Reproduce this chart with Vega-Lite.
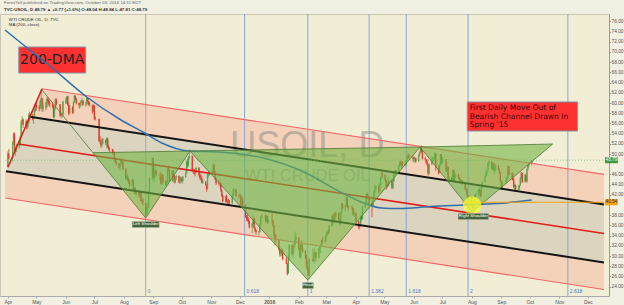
{
"$schema":"https://vega.github.io/schema/vega-lite/v6.json",
"width":609,"height":282,
"autosize":{"type":"none"},
"padding":{"left":0,"top":14,"right":15,"bottom":9},
"background":"#f2f0e2",
"config":{"view":{"fill":"#f2eed6","stroke":"#c9c6b6"},"font":"Liberation Sans"},
"title":{"text":"ForexYell published on TradingView.com, October 03, 2016 14:11 EDT","subtitle":"TVC:USOIL, D  48.79 ▲ +0.77 (+1.6%) O:48.04 H:48.84 L:47.81 C:48.79","anchor":"start","frame":"group","orient":"top","offset":1.5,"dx":4,"fontSize":4.4,"fontWeight":"normal","color":"#666","subtitleFontSize":4.4,"subtitleFontWeight":"bold","subtitleColor":"#333","subtitlePadding":1.8},
"datasets":{
"bands":[
{"b":"up","d":"2015-04-24","p":57.29,"p2":57.29},{"b":"up","d":"2015-05-07","p":62.80,"p2":56.92},{"b":"up","d":"2016-12-18","p":46.00,"p2":40.12},
{"b":"mid","d":"2015-03-30","p":46.63,"p2":46.63},{"b":"mid","d":"2015-04-24","p":57.29,"p2":45.92},{"b":"mid","d":"2016-12-18","p":40.12,"p2":28.75},
{"b":"low","d":"2015-03-29","p":46.67,"p2":41.37},{"b":"low","d":"2016-12-18","p":28.75,"p2":23.45}],
"ch":[
{"n":"tr","d":"2015-05-07","p":62.80},{"n":"tr","d":"2016-12-18","p":46.00},
{"n":"ub","d":"2015-04-24","p":57.29},{"n":"ub","d":"2016-12-18","p":40.12},
{"n":"mr","d":"2015-04-12","p":51.95},{"n":"mr","d":"2016-12-18","p":34.43},
{"n":"lb","d":"2015-03-30","p":46.63},{"n":"lb","d":"2016-12-18","p":28.75},
{"n":"lr","d":"2015-03-29","p":41.37},{"n":"lr","d":"2016-12-18","p":23.45},
{"n":"hd","d":"2015-04-01","p":47.41},{"n":"hd","d":"2015-05-07","p":62.80}],
"fib":[{"d":"2015-08-24","lv":"0"},{"d":"2015-12-06","lv":"0.618"},{"d":"2016-02-10T12:00:00Z","lv":"1"},{"d":"2016-04-15","lv":"1.382"},{"d":"2016-05-24","lv":"1.618"},{"d":"2016-07-28","lv":"2"},{"d":"2016-11-10","lv":"2.618"}],
"tri":[
{"t":"ls","d":"2015-06-29T12:00:00Z","p":50.25,"p2":50.25},{"t":"ls","d":"2015-08-24","p":37.45,"p2":50.43},{"t":"ls","d":"2015-10-09T12:00:00Z","p":50.59,"p2":50.59},
{"t":"hd","d":"2015-10-09T12:00:00Z","p":50.59,"p2":50.59},{"t":"hd","d":"2016-02-10T12:00:00Z","p":25.29,"p2":50.99},{"t":"hd","d":"2016-06-07T12:00:00Z","p":51.37,"p2":51.37},
{"t":"rs","d":"2016-06-07T12:00:00Z","p":51.37,"p2":51.37},{"t":"rs","d":"2016-08-01T12:00:00Z","p":38.63,"p2":51.60},{"t":"rs","d":"2016-10-25","p":51.96,"p2":51.96}],
"ma":[{"d":"2015-03-29","p":74.31},{"d":"2015-04-11","p":72.35},{"d":"2015-05-14","p":67.45},{"d":"2015-06-23","p":61.18},{"d":"2015-07-29","p":56.67},{"d":"2015-08-21","p":54.31},{"d":"2015-09-10","p":52.16},{"d":"2015-10-08","p":50.59},{"d":"2015-11-08","p":50.39},{"d":"2015-12-02","p":50.0},{"d":"2015-12-30","p":49.02},{"d":"2016-02-02","p":46.86},{"d":"2016-03-18","p":42.35},{"d":"2016-04-12","p":40.2},{"d":"2016-04-28","p":39.41},{"d":"2016-05-16","p":39.31},{"d":"2016-06-19","p":39.71},{"d":"2016-07-25","p":40.0},{"d":"2016-08-28","p":40.29},{"d":"2016-10-03","p":40.98}],
"candles":[
{"d":"2015-04-01","o":47.6,"h":50.5,"l":47.4,"c":50.09},{"d":"2015-04-02","o":50.1,"h":51.0,"l":48.8,"c":49.14},{"d":"2015-04-06","o":49.1,"h":52.5,"l":48.5,"c":52.14},{"d":"2015-04-07","o":52.1,"h":54.2,"l":51.8,"c":53.98},{"d":"2015-04-08","o":54.0,"h":54.2,"l":50.1,"c":50.42},{"d":"2015-04-09","o":50.4,"h":51.3,"l":49.6,"c":50.79},{"d":"2015-04-10","o":50.8,"h":52.0,"l":50.4,"c":51.64},{"d":"2015-04-13","o":51.6,"h":52.5,"l":51.0,"c":51.91},{"d":"2015-04-14","o":51.9,"h":53.6,"l":51.5,"c":53.29},{"d":"2015-04-15","o":53.3,"h":56.6,"l":53.1,"c":56.39},{"d":"2015-04-16","o":56.4,"h":57.4,"l":55.9,"c":56.71},{"d":"2015-04-17","o":56.7,"h":57.0,"l":55.1,"c":55.74},{"d":"2015-04-20","o":55.7,"h":56.8,"l":55.2,"c":56.38},{"d":"2015-04-21","o":56.4,"h":56.6,"l":54.8,"c":55.26},{"d":"2015-04-22","o":55.3,"h":56.9,"l":54.9,"c":56.16},{"d":"2015-04-23","o":56.2,"h":58.0,"l":55.9,"c":57.74},{"d":"2015-04-24","o":57.7,"h":58.3,"l":56.6,"c":57.15},{"d":"2015-04-27","o":57.2,"h":57.9,"l":56.6,"c":56.99},{"d":"2015-04-28","o":57.0,"h":57.4,"l":55.9,"c":57.06},{"d":"2015-04-29","o":57.1,"h":59.0,"l":56.9,"c":58.58},{"d":"2015-04-30","o":58.6,"h":59.9,"l":58.3,"c":59.63},
{"d":"2015-05-01","o":59.6,"h":60.0,"l":58.5,"c":59.15},{"d":"2015-05-04","o":59.2,"h":59.6,"l":58.4,"c":58.93},{"d":"2015-05-05","o":58.9,"h":60.6,"l":58.7,"c":60.40},{"d":"2015-05-06","o":60.4,"h":62.58,"l":60.2,"c":60.93},{"d":"2015-05-07","o":60.9,"h":61.0,"l":58.3,"c":58.94},{"d":"2015-05-08","o":58.9,"h":60.0,"l":58.3,"c":59.39},{"d":"2015-05-11","o":59.4,"h":60.2,"l":58.6,"c":59.25},{"d":"2015-05-12","o":59.3,"h":61.0,"l":59.0,"c":60.75},{"d":"2015-05-13","o":60.8,"h":61.2,"l":59.9,"c":60.50},{"d":"2015-05-14","o":60.5,"h":60.9,"l":59.5,"c":59.88},{"d":"2015-05-15","o":59.9,"h":60.5,"l":59.2,"c":59.69},{"d":"2015-05-18","o":59.7,"h":60.2,"l":59.0,"c":59.43},{"d":"2015-05-19","o":59.4,"h":59.6,"l":57.1,"c":57.26},{"d":"2015-05-20","o":57.3,"h":59.2,"l":57.0,"c":58.98},{"d":"2015-05-21","o":59.0,"h":60.9,"l":58.7,"c":60.72},{"d":"2015-05-22","o":60.7,"h":60.9,"l":59.5,"c":59.72},{"d":"2015-05-26","o":59.7,"h":59.8,"l":57.3,"c":57.51},{"d":"2015-05-27","o":57.5,"h":58.0,"l":57.0,"c":57.51},{"d":"2015-05-28","o":57.5,"h":58.2,"l":57.1,"c":57.68},{"d":"2015-05-29","o":57.7,"h":60.4,"l":57.5,"c":60.30},
{"d":"2015-06-01","o":60.3,"h":61.0,"l":59.8,"c":60.20},{"d":"2015-06-02","o":60.2,"h":61.4,"l":59.8,"c":61.26},{"d":"2015-06-03","o":61.3,"h":61.4,"l":59.5,"c":59.64},{"d":"2015-06-04","o":59.6,"h":60.1,"l":57.6,"c":58.00},{"d":"2015-06-05","o":58.0,"h":59.6,"l":57.8,"c":59.13},{"d":"2015-06-08","o":59.1,"h":59.3,"l":57.9,"c":58.14},{"d":"2015-06-09","o":58.1,"h":60.3,"l":57.9,"c":60.14},{"d":"2015-06-10","o":60.1,"h":61.57,"l":60.0,"c":61.43},{"d":"2015-06-11","o":61.4,"h":61.5,"l":60.5,"c":60.77},{"d":"2015-06-12","o":60.8,"h":61.0,"l":59.7,"c":59.96},{"d":"2015-06-15","o":60.0,"h":60.1,"l":58.9,"c":59.52},{"d":"2015-06-16","o":59.5,"h":60.2,"l":59.1,"c":59.97},{"d":"2015-06-17","o":60.0,"h":60.6,"l":59.4,"c":60.43},{"d":"2015-06-18","o":60.4,"h":61.0,"l":60.0,"c":60.45},{"d":"2015-06-19","o":60.5,"h":60.5,"l":59.4,"c":59.61},{"d":"2015-06-22","o":59.6,"h":60.2,"l":59.3,"c":59.68},{"d":"2015-06-23","o":59.7,"h":61.2,"l":59.5,"c":61.01},{"d":"2015-06-24","o":61.0,"h":61.1,"l":59.9,"c":60.27},{"d":"2015-06-25","o":60.3,"h":60.4,"l":59.5,"c":59.70},{"d":"2015-06-26","o":59.7,"h":60.2,"l":59.3,"c":59.63},{"d":"2015-06-29","o":59.6,"h":59.7,"l":57.9,"c":58.33},{"d":"2015-06-30","o":58.3,"h":59.7,"l":58.2,"c":59.47},
{"d":"2015-07-01","o":59.5,"h":59.6,"l":56.6,"c":56.96},{"d":"2015-07-02","o":57.0,"h":57.4,"l":56.6,"c":56.93},{"d":"2015-07-06","o":56.9,"h":56.9,"l":52.4,"c":52.53},{"d":"2015-07-07","o":52.5,"h":53.5,"l":51.9,"c":52.33},{"d":"2015-07-08","o":52.3,"h":52.8,"l":51.2,"c":51.65},{"d":"2015-07-09","o":51.7,"h":53.1,"l":51.4,"c":52.78},{"d":"2015-07-10","o":52.8,"h":53.1,"l":52.0,"c":52.74},{"d":"2015-07-13","o":52.7,"h":52.9,"l":51.7,"c":52.20},{"d":"2015-07-14","o":52.2,"h":53.3,"l":51.1,"c":53.04},{"d":"2015-07-15","o":53.0,"h":53.2,"l":51.2,"c":51.41},{"d":"2015-07-16","o":51.4,"h":51.8,"l":50.7,"c":50.91},{"d":"2015-07-17","o":50.9,"h":51.3,"l":50.4,"c":50.89},{"d":"2015-07-20","o":50.9,"h":51.0,"l":50.0,"c":50.15},{"d":"2015-07-21","o":50.2,"h":50.9,"l":49.8,"c":50.36},{"d":"2015-07-22","o":50.4,"h":50.5,"l":48.9,"c":49.19},{"d":"2015-07-23","o":49.2,"h":49.4,"l":48.2,"c":48.45},{"d":"2015-07-24","o":48.5,"h":48.7,"l":47.8,"c":48.14},{"d":"2015-07-27","o":48.1,"h":48.2,"l":47.2,"c":47.39},{"d":"2015-07-28","o":47.4,"h":48.2,"l":46.7,"c":47.98},{"d":"2015-07-29","o":48.0,"h":49.0,"l":47.6,"c":48.79},{"d":"2015-07-30","o":48.8,"h":49.2,"l":48.0,"c":48.52},{"d":"2015-07-31","o":48.5,"h":48.6,"l":46.9,"c":47.12},
{"d":"2015-08-03","o":47.1,"h":47.2,"l":45.0,"c":45.17},{"d":"2015-08-04","o":45.2,"h":46.0,"l":44.9,"c":45.74},{"d":"2015-08-05","o":45.7,"h":46.0,"l":44.6,"c":45.15},{"d":"2015-08-06","o":45.2,"h":45.3,"l":44.1,"c":44.66},{"d":"2015-08-07","o":44.7,"h":44.8,"l":43.4,"c":43.87},{"d":"2015-08-10","o":43.9,"h":45.2,"l":43.8,"c":44.96},{"d":"2015-08-11","o":45.0,"h":45.0,"l":42.9,"c":43.08},{"d":"2015-08-12","o":43.1,"h":43.7,"l":42.0,"c":43.30},{"d":"2015-08-13","o":43.3,"h":43.5,"l":42.1,"c":42.23},{"d":"2015-08-14","o":42.2,"h":42.8,"l":41.9,"c":42.50},{"d":"2015-08-17","o":42.5,"h":42.6,"l":41.4,"c":41.87},{"d":"2015-08-18","o":41.9,"h":42.7,"l":41.6,"c":42.62},{"d":"2015-08-19","o":42.6,"h":42.7,"l":40.6,"c":40.80},{"d":"2015-08-20","o":40.8,"h":41.6,"l":40.2,"c":41.14},{"d":"2015-08-21","o":41.1,"h":41.3,"l":39.9,"c":40.45},{"d":"2015-08-24","o":40.4,"h":40.5,"l":37.75,"c":38.24},{"d":"2015-08-25","o":38.2,"h":39.8,"l":38.0,"c":39.31},{"d":"2015-08-26","o":39.3,"h":40.3,"l":38.6,"c":39.60},{"d":"2015-08-27","o":39.6,"h":42.9,"l":39.4,"c":42.56},{"d":"2015-08-28","o":42.6,"h":45.4,"l":42.3,"c":45.22},{"d":"2015-08-31","o":45.2,"h":49.3,"l":44.8,"c":49.20},
{"d":"2015-09-01","o":49.2,"h":49.3,"l":45.1,"c":45.41},{"d":"2015-09-02","o":45.4,"h":47.0,"l":44.4,"c":46.25},{"d":"2015-09-03","o":46.3,"h":47.6,"l":45.9,"c":46.75},{"d":"2015-09-04","o":46.7,"h":46.9,"l":45.6,"c":46.05},{"d":"2015-09-08","o":46.0,"h":46.3,"l":44.8,"c":45.94},{"d":"2015-09-09","o":45.9,"h":46.4,"l":44.0,"c":44.15},{"d":"2015-09-10","o":44.2,"h":46.2,"l":43.9,"c":45.92},{"d":"2015-09-11","o":45.9,"h":46.0,"l":44.3,"c":44.63},{"d":"2015-09-14","o":44.6,"h":44.8,"l":43.7,"c":44.00},{"d":"2015-09-15","o":44.0,"h":44.9,"l":43.8,"c":44.59},{"d":"2015-09-16","o":44.6,"h":47.3,"l":44.5,"c":47.15},{"d":"2015-09-17","o":47.2,"h":47.7,"l":46.6,"c":46.90},{"d":"2015-09-18","o":46.9,"h":47.0,"l":44.5,"c":44.68},{"d":"2015-09-21","o":44.7,"h":46.9,"l":44.6,"c":46.68},{"d":"2015-09-22","o":46.7,"h":46.8,"l":45.6,"c":45.83},{"d":"2015-09-23","o":45.8,"h":46.1,"l":44.3,"c":44.48},{"d":"2015-09-24","o":44.5,"h":45.4,"l":44.2,"c":45.22},{"d":"2015-09-25","o":45.2,"h":45.9,"l":44.9,"c":45.70},{"d":"2015-09-28","o":45.7,"h":45.8,"l":44.3,"c":44.43},{"d":"2015-09-29","o":44.4,"h":45.4,"l":44.1,"c":45.23},{"d":"2015-09-30","o":45.2,"h":45.6,"l":44.7,"c":45.09},
{"d":"2015-10-01","o":45.1,"h":45.4,"l":44.2,"c":44.74},{"d":"2015-10-02","o":44.7,"h":45.7,"l":44.4,"c":45.54},{"d":"2015-10-05","o":45.5,"h":46.6,"l":45.3,"c":46.26},{"d":"2015-10-06","o":46.3,"h":48.7,"l":46.1,"c":48.53},{"d":"2015-10-07","o":48.5,"h":49.1,"l":47.3,"c":47.81},{"d":"2015-10-08","o":47.8,"h":49.6,"l":47.6,"c":49.43},{"d":"2015-10-09","o":49.4,"h":50.92,"l":48.9,"c":49.63},{"d":"2015-10-12","o":49.6,"h":49.7,"l":46.6,"c":46.66},{"d":"2015-10-13","o":46.7,"h":47.2,"l":46.1,"c":46.66},{"d":"2015-10-14","o":46.7,"h":47.0,"l":45.9,"c":46.64},{"d":"2015-10-15","o":46.6,"h":47.1,"l":45.6,"c":46.38},{"d":"2015-10-16","o":46.4,"h":47.5,"l":46.2,"c":47.26},{"d":"2015-10-19","o":47.3,"h":47.4,"l":45.6,"c":45.89},{"d":"2015-10-20","o":45.9,"h":46.2,"l":45.0,"c":45.29},{"d":"2015-10-21","o":45.3,"h":46.1,"l":44.8,"c":45.20},{"d":"2015-10-22","o":45.2,"h":45.7,"l":44.2,"c":44.38},{"d":"2015-10-23","o":44.4,"h":45.2,"l":44.2,"c":44.60},{"d":"2015-10-26","o":44.6,"h":44.7,"l":43.8,"c":43.98},{"d":"2015-10-27","o":44.0,"h":44.0,"l":42.6,"c":43.20},{"d":"2015-10-28","o":43.2,"h":46.1,"l":43.0,"c":45.94},{"d":"2015-10-29","o":45.9,"h":46.5,"l":45.4,"c":46.06},{"d":"2015-10-30","o":46.1,"h":46.7,"l":45.7,"c":46.59},
{"d":"2015-11-02","o":46.6,"h":46.8,"l":45.9,"c":46.14},{"d":"2015-11-03","o":46.1,"h":48.2,"l":46.0,"c":47.90},{"d":"2015-11-04","o":47.9,"h":48.0,"l":45.9,"c":46.32},{"d":"2015-11-05","o":46.3,"h":46.7,"l":44.9,"c":45.20},{"d":"2015-11-06","o":45.2,"h":45.3,"l":43.9,"c":44.29},{"d":"2015-11-09","o":44.3,"h":44.9,"l":43.8,"c":44.21},{"d":"2015-11-10","o":44.2,"h":44.6,"l":43.6,"c":44.21},{"d":"2015-11-11","o":44.2,"h":44.4,"l":42.6,"c":42.93},{"d":"2015-11-12","o":42.9,"h":43.0,"l":41.6,"c":41.75},{"d":"2015-11-13","o":41.8,"h":42.1,"l":40.5,"c":40.74},{"d":"2015-11-16","o":40.7,"h":41.9,"l":40.4,"c":41.74},{"d":"2015-11-17","o":41.7,"h":42.0,"l":40.5,"c":40.67},{"d":"2015-11-18","o":40.7,"h":41.1,"l":39.9,"c":40.75},{"d":"2015-11-19","o":40.8,"h":41.2,"l":40.1,"c":40.54},{"d":"2015-11-20","o":40.5,"h":41.0,"l":39.9,"c":40.39},{"d":"2015-11-23","o":40.4,"h":42.0,"l":40.2,"c":41.75},{"d":"2015-11-24","o":41.8,"h":43.2,"l":41.6,"c":42.87},{"d":"2015-11-25","o":42.9,"h":43.3,"l":42.0,"c":43.04},{"d":"2015-11-27","o":43.0,"h":43.1,"l":41.6,"c":41.71},{"d":"2015-11-30","o":41.7,"h":42.2,"l":41.3,"c":41.65},
{"d":"2015-12-01","o":41.7,"h":42.2,"l":41.3,"c":41.85},{"d":"2015-12-02","o":41.9,"h":42.0,"l":39.8,"c":39.94},{"d":"2015-12-03","o":39.9,"h":41.6,"l":39.7,"c":41.08},{"d":"2015-12-04","o":41.1,"h":41.5,"l":39.6,"c":39.97},{"d":"2015-12-07","o":40.0,"h":40.1,"l":37.5,"c":37.65},{"d":"2015-12-08","o":37.7,"h":38.0,"l":36.9,"c":37.51},{"d":"2015-12-09","o":37.5,"h":38.3,"l":36.8,"c":37.16},{"d":"2015-12-10","o":37.2,"h":37.6,"l":36.3,"c":36.76},{"d":"2015-12-11","o":36.8,"h":36.9,"l":35.4,"c":35.62},{"d":"2015-12-14","o":35.6,"h":36.6,"l":34.5,"c":36.31},{"d":"2015-12-15","o":36.3,"h":37.9,"l":36.1,"c":37.35},{"d":"2015-12-16","o":37.4,"h":37.5,"l":35.4,"c":35.52},{"d":"2015-12-17","o":35.5,"h":35.7,"l":34.6,"c":34.95},{"d":"2015-12-18","o":35.0,"h":35.2,"l":34.2,"c":34.73},{"d":"2015-12-21","o":34.7,"h":35.0,"l":33.98,"c":34.74},{"d":"2015-12-22","o":34.7,"h":36.4,"l":34.6,"c":36.14},{"d":"2015-12-23","o":36.1,"h":37.8,"l":36.0,"c":37.50},{"d":"2015-12-24","o":37.5,"h":38.1,"l":37.3,"c":38.10},{"d":"2015-12-28","o":38.1,"h":38.1,"l":36.6,"c":36.81},{"d":"2015-12-29","o":36.8,"h":37.9,"l":36.7,"c":37.87},{"d":"2015-12-30","o":37.9,"h":37.9,"l":36.3,"c":36.60},{"d":"2015-12-31","o":36.6,"h":37.2,"l":36.5,"c":37.04},
{"d":"2016-01-04","o":37.0,"h":38.4,"l":36.3,"c":36.76},{"d":"2016-01-05","o":36.8,"h":37.1,"l":35.7,"c":35.97},{"d":"2016-01-06","o":36.0,"h":36.0,"l":33.8,"c":33.97},{"d":"2016-01-07","o":34.0,"h":34.3,"l":32.1,"c":33.27},{"d":"2016-01-08","o":33.3,"h":34.3,"l":32.8,"c":33.16},{"d":"2016-01-11","o":33.2,"h":33.2,"l":31.1,"c":31.41},{"d":"2016-01-12","o":31.4,"h":31.9,"l":29.9,"c":30.44},{"d":"2016-01-13","o":30.4,"h":31.2,"l":29.9,"c":30.48},{"d":"2016-01-14","o":30.5,"h":31.6,"l":30.0,"c":31.20},{"d":"2016-01-15","o":31.2,"h":31.3,"l":29.1,"c":29.42},{"d":"2016-01-19","o":29.4,"h":29.9,"l":28.4,"c":28.46},{"d":"2016-01-20","o":28.5,"h":28.6,"l":26.19,"c":26.55},{"d":"2016-01-21","o":26.6,"h":30.2,"l":26.5,"c":29.53},{"d":"2016-01-22","o":29.5,"h":32.3,"l":29.3,"c":32.19},{"d":"2016-01-25","o":32.2,"h":32.3,"l":30.1,"c":30.34},{"d":"2016-01-26","o":30.3,"h":31.6,"l":29.6,"c":31.45},{"d":"2016-01-27","o":31.5,"h":32.6,"l":30.8,"c":32.30},{"d":"2016-01-28","o":32.3,"h":34.8,"l":31.8,"c":33.22},{"d":"2016-01-29","o":33.2,"h":34.4,"l":32.6,"c":33.62},
{"d":"2016-02-01","o":33.6,"h":33.7,"l":31.1,"c":31.62},{"d":"2016-02-02","o":31.6,"h":31.8,"l":29.6,"c":29.88},{"d":"2016-02-03","o":29.9,"h":32.4,"l":29.3,"c":32.28},{"d":"2016-02-04","o":32.3,"h":33.0,"l":31.2,"c":31.72},{"d":"2016-02-05","o":31.7,"h":32.3,"l":30.6,"c":30.89},{"d":"2016-02-08","o":30.9,"h":31.2,"l":29.4,"c":29.69},{"d":"2016-02-09","o":29.7,"h":30.2,"l":27.6,"c":27.94},{"d":"2016-02-10","o":27.9,"h":29.0,"l":27.1,"c":27.45},{"d":"2016-02-11","o":27.5,"h":27.6,"l":26.05,"c":26.21},{"d":"2016-02-12","o":26.2,"h":29.5,"l":26.2,"c":29.44},{"d":"2016-02-16","o":29.4,"h":31.5,"l":28.8,"c":29.04},{"d":"2016-02-17","o":29.0,"h":30.9,"l":28.6,"c":30.66},{"d":"2016-02-18","o":30.7,"h":31.5,"l":30.2,"c":30.77},{"d":"2016-02-19","o":30.8,"h":30.8,"l":28.9,"c":29.64},{"d":"2016-02-22","o":29.6,"h":31.6,"l":29.5,"c":31.48},{"d":"2016-02-23","o":31.5,"h":31.8,"l":30.7,"c":31.87},{"d":"2016-02-24","o":31.9,"h":32.4,"l":30.6,"c":32.15},{"d":"2016-02-25","o":32.2,"h":33.3,"l":31.8,"c":33.07},{"d":"2016-02-26","o":33.1,"h":33.8,"l":32.4,"c":32.78},{"d":"2016-02-29","o":32.8,"h":34.0,"l":32.5,"c":33.75},
{"d":"2016-03-01","o":33.8,"h":34.8,"l":33.0,"c":34.40},{"d":"2016-03-02","o":34.4,"h":35.0,"l":33.8,"c":34.66},{"d":"2016-03-03","o":34.7,"h":35.2,"l":34.2,"c":34.57},{"d":"2016-03-04","o":34.6,"h":36.1,"l":34.5,"c":35.92},{"d":"2016-03-07","o":35.9,"h":38.0,"l":35.8,"c":37.90},{"d":"2016-03-08","o":37.9,"h":38.0,"l":36.2,"c":36.50},{"d":"2016-03-09","o":36.5,"h":38.4,"l":36.4,"c":38.29},{"d":"2016-03-10","o":38.3,"h":38.6,"l":37.0,"c":37.84},{"d":"2016-03-11","o":37.8,"h":38.7,"l":37.3,"c":38.50},{"d":"2016-03-14","o":38.5,"h":38.6,"l":36.8,"c":37.18},{"d":"2016-03-15","o":37.2,"h":37.3,"l":36.0,"c":36.34},{"d":"2016-03-16","o":36.3,"h":38.6,"l":36.2,"c":38.46},{"d":"2016-03-17","o":38.5,"h":40.4,"l":38.3,"c":40.20},{"d":"2016-03-18","o":40.2,"h":40.4,"l":39.2,"c":39.44},{"d":"2016-03-21","o":39.4,"h":40.0,"l":38.8,"c":39.91},{"d":"2016-03-22","o":39.9,"h":41.9,"l":39.5,"c":41.45},{"d":"2016-03-23","o":41.5,"h":41.5,"l":39.6,"c":39.79},{"d":"2016-03-24","o":39.8,"h":39.9,"l":39.0,"c":39.46},{"d":"2016-03-28","o":39.5,"h":39.9,"l":39.0,"c":39.39},{"d":"2016-03-29","o":39.4,"h":39.5,"l":37.9,"c":38.28},{"d":"2016-03-30","o":38.3,"h":39.0,"l":37.8,"c":38.32},{"d":"2016-03-31","o":38.3,"h":38.6,"l":37.9,"c":38.34},
{"d":"2016-04-01","o":38.3,"h":38.5,"l":36.6,"c":36.79},{"d":"2016-04-04","o":36.8,"h":37.0,"l":35.3,"c":35.70},{"d":"2016-04-05","o":35.7,"h":36.2,"l":35.2,"c":35.89},{"d":"2016-04-06","o":35.9,"h":37.9,"l":35.8,"c":37.75},{"d":"2016-04-07","o":37.8,"h":38.0,"l":36.9,"c":37.26},{"d":"2016-04-08","o":37.3,"h":39.9,"l":37.1,"c":39.72},{"d":"2016-04-11","o":39.7,"h":40.6,"l":39.4,"c":40.36},{"d":"2016-04-12","o":40.4,"h":42.3,"l":40.2,"c":42.17},{"d":"2016-04-13","o":42.2,"h":42.4,"l":41.2,"c":41.76},{"d":"2016-04-14","o":41.8,"h":42.0,"l":40.9,"c":41.50},{"d":"2016-04-15","o":41.5,"h":41.6,"l":40.0,"c":40.36},{"d":"2016-04-18","o":40.4,"h":40.5,"l":37.6,"c":39.78},{"d":"2016-04-19","o":39.8,"h":41.2,"l":39.5,"c":41.08},{"d":"2016-04-20","o":41.1,"h":42.7,"l":40.6,"c":42.63},{"d":"2016-04-21","o":42.6,"h":44.0,"l":42.4,"c":43.18},{"d":"2016-04-22","o":43.2,"h":43.8,"l":42.9,"c":43.73},{"d":"2016-04-25","o":43.7,"h":43.8,"l":42.3,"c":42.64},{"d":"2016-04-26","o":42.6,"h":44.2,"l":42.3,"c":44.04},{"d":"2016-04-27","o":44.0,"h":45.5,"l":43.8,"c":45.33},{"d":"2016-04-28","o":45.3,"h":46.78,"l":44.9,"c":46.03},{"d":"2016-04-29","o":46.0,"h":46.5,"l":45.4,"c":45.92},
{"d":"2016-05-02","o":45.9,"h":46.0,"l":44.6,"c":44.78},{"d":"2016-05-03","o":44.8,"h":44.9,"l":43.0,"c":43.65},{"d":"2016-05-04","o":43.7,"h":44.4,"l":43.3,"c":43.78},{"d":"2016-05-05","o":43.8,"h":45.6,"l":43.6,"c":44.32},{"d":"2016-05-06","o":44.3,"h":44.9,"l":43.8,"c":44.66},{"d":"2016-05-09","o":44.7,"h":45.1,"l":43.1,"c":43.44},{"d":"2016-05-10","o":43.4,"h":44.8,"l":43.1,"c":44.66},{"d":"2016-05-11","o":44.7,"h":46.4,"l":44.5,"c":46.23},{"d":"2016-05-12","o":46.2,"h":46.8,"l":45.8,"c":46.70},{"d":"2016-05-13","o":46.7,"h":46.9,"l":45.9,"c":46.21},{"d":"2016-05-16","o":46.2,"h":47.9,"l":46.1,"c":47.72},{"d":"2016-05-17","o":47.7,"h":48.6,"l":47.4,"c":48.31},{"d":"2016-05-18","o":48.3,"h":48.7,"l":47.6,"c":48.19},{"d":"2016-05-19","o":48.2,"h":48.5,"l":47.1,"c":48.49},{"d":"2016-05-20","o":48.5,"h":48.6,"l":47.6,"c":47.75},{"d":"2016-05-23","o":47.8,"h":48.5,"l":47.6,"c":48.08},{"d":"2016-05-24","o":48.1,"h":48.7,"l":47.8,"c":48.62},{"d":"2016-05-25","o":48.6,"h":49.7,"l":48.5,"c":49.56},{"d":"2016-05-26","o":49.6,"h":50.21,"l":49.2,"c":49.48},{"d":"2016-05-27","o":49.5,"h":49.9,"l":49.0,"c":49.33},{"d":"2016-05-31","o":49.3,"h":49.8,"l":48.6,"c":49.10},
{"d":"2016-06-01","o":49.1,"h":49.4,"l":48.4,"c":49.01},{"d":"2016-06-02","o":49.0,"h":49.5,"l":48.3,"c":49.17},{"d":"2016-06-03","o":49.2,"h":49.3,"l":48.3,"c":48.62},{"d":"2016-06-06","o":48.6,"h":50.0,"l":48.5,"c":49.69},{"d":"2016-06-07","o":49.7,"h":50.5,"l":49.5,"c":50.36},{"d":"2016-06-08","o":50.4,"h":51.3,"l":50.1,"c":51.23},{"d":"2016-06-09","o":51.2,"h":51.67,"l":50.3,"c":50.56},{"d":"2016-06-10","o":50.6,"h":50.7,"l":48.9,"c":49.07},{"d":"2016-06-13","o":49.1,"h":49.4,"l":48.6,"c":48.88},{"d":"2016-06-14","o":48.9,"h":49.0,"l":48.0,"c":48.49},{"d":"2016-06-15","o":48.5,"h":48.9,"l":47.7,"c":48.01},{"d":"2016-06-16","o":48.0,"h":48.1,"l":45.8,"c":46.21},{"d":"2016-06-17","o":46.2,"h":48.1,"l":46.0,"c":47.98},{"d":"2016-06-20","o":48.0,"h":49.5,"l":47.9,"c":48.74},{"d":"2016-06-21","o":48.7,"h":49.5,"l":48.5,"c":48.85},{"d":"2016-06-22","o":48.9,"h":49.4,"l":48.6,"c":49.13},{"d":"2016-06-23","o":49.1,"h":50.4,"l":48.9,"c":50.11},{"d":"2016-06-24","o":50.1,"h":50.1,"l":46.7,"c":47.64},{"d":"2016-06-27","o":47.6,"h":47.8,"l":46.0,"c":46.33},{"d":"2016-06-28","o":46.3,"h":48.0,"l":46.2,"c":47.85},{"d":"2016-06-29","o":47.9,"h":50.0,"l":47.7,"c":49.88},{"d":"2016-06-30","o":49.9,"h":50.0,"l":48.0,"c":48.33},
{"d":"2016-07-01","o":48.3,"h":49.4,"l":48.0,"c":48.99},{"d":"2016-07-05","o":49.0,"h":49.0,"l":46.5,"c":46.60},{"d":"2016-07-06","o":46.6,"h":47.8,"l":46.1,"c":47.43},{"d":"2016-07-07","o":47.4,"h":47.5,"l":44.9,"c":45.14},{"d":"2016-07-08","o":45.1,"h":45.7,"l":44.3,"c":45.41},{"d":"2016-07-11","o":45.4,"h":45.5,"l":44.5,"c":44.76},{"d":"2016-07-12","o":44.8,"h":46.9,"l":44.6,"c":46.80},{"d":"2016-07-13","o":46.8,"h":47.0,"l":44.7,"c":44.75},{"d":"2016-07-14","o":44.8,"h":45.9,"l":44.4,"c":45.68},{"d":"2016-07-15","o":45.7,"h":46.3,"l":45.4,"c":45.95},{"d":"2016-07-18","o":46.0,"h":46.1,"l":45.1,"c":45.24},{"d":"2016-07-19","o":45.2,"h":45.5,"l":44.5,"c":44.65},{"d":"2016-07-20","o":44.7,"h":45.2,"l":44.5,"c":44.94},{"d":"2016-07-21","o":44.9,"h":45.0,"l":44.1,"c":44.75},{"d":"2016-07-22","o":44.8,"h":44.8,"l":44.0,"c":44.19},{"d":"2016-07-25","o":44.2,"h":44.2,"l":42.9,"c":43.13},{"d":"2016-07-26","o":43.1,"h":43.4,"l":42.6,"c":42.92},{"d":"2016-07-27","o":42.9,"h":43.2,"l":41.8,"c":41.92},{"d":"2016-07-28","o":41.9,"h":42.1,"l":41.0,"c":41.14},{"d":"2016-07-29","o":41.1,"h":41.7,"l":40.6,"c":41.60},
{"d":"2016-08-01","o":41.6,"h":41.7,"l":39.9,"c":40.06},{"d":"2016-08-02","o":40.1,"h":40.3,"l":39.19,"c":39.51},{"d":"2016-08-03","o":39.5,"h":41.0,"l":39.3,"c":40.83},{"d":"2016-08-04","o":40.8,"h":42.0,"l":40.5,"c":41.93},{"d":"2016-08-05","o":41.9,"h":42.3,"l":41.4,"c":41.80},{"d":"2016-08-08","o":41.8,"h":43.2,"l":41.7,"c":43.02},{"d":"2016-08-09","o":43.0,"h":43.3,"l":42.3,"c":42.77},{"d":"2016-08-10","o":42.8,"h":43.0,"l":41.5,"c":41.71},{"d":"2016-08-11","o":41.7,"h":43.6,"l":41.6,"c":43.49},{"d":"2016-08-12","o":43.5,"h":44.6,"l":43.4,"c":44.49},{"d":"2016-08-15","o":44.5,"h":45.8,"l":44.4,"c":45.74},{"d":"2016-08-16","o":45.7,"h":46.7,"l":45.6,"c":46.58},{"d":"2016-08-17","o":46.6,"h":47.0,"l":45.9,"c":46.79},{"d":"2016-08-18","o":46.8,"h":48.3,"l":46.5,"c":48.22},{"d":"2016-08-19","o":48.2,"h":48.75,"l":47.7,"c":48.52},{"d":"2016-08-22","o":48.5,"h":48.6,"l":46.9,"c":47.05},{"d":"2016-08-23","o":47.1,"h":48.2,"l":46.8,"c":48.10},{"d":"2016-08-24","o":48.1,"h":48.3,"l":46.6,"c":46.77},{"d":"2016-08-25","o":46.8,"h":47.6,"l":46.1,"c":47.33},{"d":"2016-08-26","o":47.3,"h":48.1,"l":46.7,"c":47.64},{"d":"2016-08-29","o":47.6,"h":47.8,"l":46.8,"c":46.98},{"d":"2016-08-30","o":47.0,"h":47.1,"l":46.1,"c":46.35},{"d":"2016-08-31","o":46.4,"h":46.5,"l":44.6,"c":44.70},
{"d":"2016-09-01","o":44.7,"h":44.9,"l":43.0,"c":43.16},{"d":"2016-09-02","o":43.2,"h":44.6,"l":43.0,"c":44.44},{"d":"2016-09-06","o":44.4,"h":45.2,"l":44.1,"c":44.83},{"d":"2016-09-07","o":44.8,"h":45.7,"l":44.7,"c":45.50},{"d":"2016-09-08","o":45.5,"h":47.7,"l":45.2,"c":47.62},{"d":"2016-09-09","o":47.6,"h":47.7,"l":45.7,"c":45.88},{"d":"2016-09-12","o":45.9,"h":46.4,"l":45.0,"c":46.29},{"d":"2016-09-13","o":46.3,"h":46.4,"l":44.8,"c":44.90},{"d":"2016-09-14","o":44.9,"h":45.3,"l":43.3,"c":43.58},{"d":"2016-09-15","o":43.6,"h":44.1,"l":43.0,"c":43.91},{"d":"2016-09-16","o":43.9,"h":44.0,"l":42.9,"c":43.03},{"d":"2016-09-19","o":43.0,"h":43.9,"l":42.8,"c":43.30},{"d":"2016-09-20","o":43.3,"h":44.0,"l":43.0,"c":43.85},{"d":"2016-09-21","o":43.9,"h":45.4,"l":43.7,"c":45.34},{"d":"2016-09-22","o":45.3,"h":46.5,"l":45.1,"c":46.32},{"d":"2016-09-23","o":46.3,"h":46.4,"l":44.3,"c":44.48},{"d":"2016-09-26","o":44.5,"h":46.2,"l":44.4,"c":45.93},{"d":"2016-09-27","o":45.9,"h":46.0,"l":44.5,"c":44.67},{"d":"2016-09-28","o":44.7,"h":47.2,"l":44.3,"c":47.05},{"d":"2016-09-29","o":47.1,"h":47.9,"l":46.7,"c":47.83},{"d":"2016-09-30","o":47.8,"h":48.3,"l":47.4,"c":48.02},
{"d":"2016-10-03","o":48.04,"h":48.84,"l":47.81,"c":48.79}]
},
"encoding":{"x":{"field":"d","type":"temporal","scale":{"type":"utc","domain":[{"year":2015,"month":3,"date":29,"utc":true},{"year":2016,"month":12,"date":18,"utc":true}]},"axis":{"title":null,"tickCount":{"interval":"month","step":1},"labelExpr":"utcmonth(datum.value)==0 ? utcFormat(datum.value,'%Y') : utcFormat(datum.value,'%b')","labelFontWeight":{"condition":{"test":"utcmonth(datum.value)==0","value":"bold"},"value":"normal"},"labelFontSize":5,"labelColor":"#555","labelPadding":1,"tickSize":2,"tickColor":"#aaa","domainColor":"#aaa","grid":false,"labelOverlap":false,"labelFlush":false,"labelBound":false}}},
"layer":[
{"data":{"name":"bands"},"mark":{"type":"area"},"encoding":{"y":{"field":"p","type":"quantitative","scale":{"domain":[22.16,77.45],"zero":false,"nice":false},"axis":{"orient":"right","title":null,"values":[24,26,28,30,32,34,36,38,42,44,46,50,52,54,56,58,60,62,64,66,68,70,72,74,76],"format":".2f","labelFontSize":4.8,"labelColor":"#555","labelPadding":0.5,"tickSize":1.5,"tickColor":"#999","domainColor":"#999","grid":false,"labelOverlap":false,"labelBound":false,"labelFlush":false}},"y2":{"field":"p2"},"color":{"field":"b","type":"nominal","scale":{"domain":["up","mid","low"],"range":["#f4d1b9","#dbd5c0","#f4d1b9"]},"legend":null}}},
{"data":{"name":"fib"},"mark":{"type":"rule","strokeWidth":1},"encoding":{"color":{"condition":{"test":"datum.lv=='0'","value":"#a8a8a8"},"value":"#86a6d6"}}},
{"data":{"name":"fib"},"mark":{"type":"text","align":"left","dx":2,"fontSize":5,"baseline":"middle"},"encoding":{"y":{"datum":23.1,"type":"quantitative","scale":{"domain":[22.16,77.45],"zero":false,"nice":false},"axis":{"orient":"right","title":null,"values":[24,26,28,30,32,34,36,38,42,44,46,50,52,54,56,58,60,62,64,66,68,70,72,74,76],"format":".2f","labelFontSize":4.8,"labelColor":"#555","labelPadding":0.5,"tickSize":1.5,"tickColor":"#999","domainColor":"#999","grid":false,"labelOverlap":false,"labelBound":false,"labelFlush":false}},"text":{"field":"lv"},"color":{"condition":{"test":"datum.lv=='0'","value":"#888"},"value":"#3f78d0"}}},
{"data":{"values":[{"d":"2016-02-10","p":49.51,"t":"USOIL, D","s":36},{"d":"2016-02-10","p":44.80,"t":"WTI CRUDE OIL","s":16.5}]},"mark":{"type":"text","align":"center","baseline":"alphabetic","color":"#8c8a84","opacity":0.5},"encoding":{"y":{"field":"p","type":"quantitative","scale":{"domain":[22.16,77.45],"zero":false,"nice":false},"axis":{"orient":"right","title":null,"values":[24,26,28,30,32,34,36,38,42,44,46,50,52,54,56,58,60,62,64,66,68,70,72,74,76],"format":".2f","labelFontSize":4.8,"labelColor":"#555","labelPadding":0.5,"tickSize":1.5,"tickColor":"#999","domainColor":"#999","grid":false,"labelOverlap":false,"labelBound":false,"labelFlush":false}},"text":{"field":"t"},"size":{"field":"s","type":"quantitative","scale":null}}},
{"data":{"name":"candles"},"mark":{"type":"rule","strokeWidth":0.8},"encoding":{"y":{"field":"l","type":"quantitative","scale":{"domain":[22.16,77.45],"zero":false,"nice":false},"axis":{"orient":"right","title":null,"values":[24,26,28,30,32,34,36,38,42,44,46,50,52,54,56,58,60,62,64,66,68,70,72,74,76],"format":".2f","labelFontSize":4.8,"labelColor":"#555","labelPadding":0.5,"tickSize":1.5,"tickColor":"#999","domainColor":"#999","grid":false,"labelOverlap":false,"labelBound":false,"labelFlush":false}},"y2":{"field":"h"},"color":{"condition":{"test":"datum.c>=datum.o","value":"#4fa84b"},"value":"#e0392c"}}},
{"data":{"name":"candles"},"mark":{"type":"bar","width":1.3},"encoding":{"y":{"field":"o","type":"quantitative","scale":{"domain":[22.16,77.45],"zero":false,"nice":false},"axis":{"orient":"right","title":null,"values":[24,26,28,30,32,34,36,38,42,44,46,50,52,54,56,58,60,62,64,66,68,70,72,74,76],"format":".2f","labelFontSize":4.8,"labelColor":"#555","labelPadding":0.5,"tickSize":1.5,"tickColor":"#999","domainColor":"#999","grid":false,"labelOverlap":false,"labelBound":false,"labelFlush":false}},"y2":{"field":"c"},"color":{"condition":{"test":"datum.c>=datum.o","value":"#4fa84b"},"value":"#e0392c"}}},
{"data":{"name":"ch"},"transform":[{"filter":{"field":"n","oneOf":["ub","lb"]}}],"mark":{"type":"line","color":"#151515","strokeWidth":2},"encoding":{"y":{"field":"p","type":"quantitative","scale":{"domain":[22.16,77.45],"zero":false,"nice":false},"axis":{"orient":"right","title":null,"values":[24,26,28,30,32,34,36,38,42,44,46,50,52,54,56,58,60,62,64,66,68,70,72,74,76],"format":".2f","labelFontSize":4.8,"labelColor":"#555","labelPadding":0.5,"tickSize":1.5,"tickColor":"#999","domainColor":"#999","grid":false,"labelOverlap":false,"labelBound":false,"labelFlush":false}},"detail":{"field":"n"}}},
{"data":{"name":"ch"},"transform":[{"filter":{"field":"n","oneOf":["mr","hd"]}}],"mark":{"type":"line","color":"#e21b1b","strokeWidth":1.6},"encoding":{"y":{"field":"p","type":"quantitative","scale":{"domain":[22.16,77.45],"zero":false,"nice":false},"axis":{"orient":"right","title":null,"values":[24,26,28,30,32,34,36,38,42,44,46,50,52,54,56,58,60,62,64,66,68,70,72,74,76],"format":".2f","labelFontSize":4.8,"labelColor":"#555","labelPadding":0.5,"tickSize":1.5,"tickColor":"#999","domainColor":"#999","grid":false,"labelOverlap":false,"labelBound":false,"labelFlush":false}},"detail":{"field":"n"}}},
{"data":{"name":"ch"},"transform":[{"filter":{"field":"n","oneOf":["tr","lr"]}}],"mark":{"type":"line","color":"#f06565","strokeWidth":1.1},"encoding":{"y":{"field":"p","type":"quantitative","scale":{"domain":[22.16,77.45],"zero":false,"nice":false},"axis":{"orient":"right","title":null,"values":[24,26,28,30,32,34,36,38,42,44,46,50,52,54,56,58,60,62,64,66,68,70,72,74,76],"format":".2f","labelFontSize":4.8,"labelColor":"#555","labelPadding":0.5,"tickSize":1.5,"tickColor":"#999","domainColor":"#999","grid":false,"labelOverlap":false,"labelBound":false,"labelFlush":false}},"detail":{"field":"n"}}},
{"data":{"values":[{"d":"2015-03-29","p":48.79},{"d":"2016-12-18","p":48.79}]},"mark":{"type":"line","color":"#6fbf6f","strokeWidth":1,"strokeDash":[1,2],"opacity":0.8},"encoding":{"y":{"field":"p","type":"quantitative","scale":{"domain":[22.16,77.45],"zero":false,"nice":false},"axis":{"orient":"right","title":null,"values":[24,26,28,30,32,34,36,38,42,44,46,50,52,54,56,58,60,62,64,66,68,70,72,74,76],"format":".2f","labelFontSize":4.8,"labelColor":"#555","labelPadding":0.5,"tickSize":1.5,"tickColor":"#999","domainColor":"#999","grid":false,"labelOverlap":false,"labelBound":false,"labelFlush":false}}}},
{"data":{"values":[{"d":"2015-04-12T12:00:00Z","d2":"2015-06-21T19:00:00Z","p":70.98,"p2":65.88},{"d":"2016-07-27T05:00:00Z","d2":"2016-11-20T02:00:00Z","p":60.20,"p2":54.51}]},"mark":{"type":"rect","fill":"#fe3131","stroke":"#8494a8","strokeWidth":1},"encoding":{"x2":{"field":"d2"},"y":{"field":"p","type":"quantitative","scale":{"domain":[22.16,77.45],"zero":false,"nice":false},"axis":{"orient":"right","title":null,"values":[24,26,28,30,32,34,36,38,42,44,46,50,52,54,56,58,60,62,64,66,68,70,72,74,76],"format":".2f","labelFontSize":4.8,"labelColor":"#555","labelPadding":0.5,"tickSize":1.5,"tickColor":"#999","domainColor":"#999","grid":false,"labelOverlap":false,"labelBound":false,"labelFlush":false}},"y2":{"field":"p2"}}},
{"data":{"values":[{"d":"2015-05-17T15:00:00Z","p":68.43}]},"mark":{"type":"text","text":"200-DMA","font":"DejaVu Sans","fontSize":14,"align":"center","baseline":"middle","color":"#222"},"encoding":{"y":{"field":"p","type":"quantitative","scale":{"domain":[22.16,77.45],"zero":false,"nice":false},"axis":{"orient":"right","title":null,"values":[24,26,28,30,32,34,36,38,42,44,46,50,52,54,56,58,60,62,64,66,68,70,72,74,76],"format":".2f","labelFontSize":4.8,"labelColor":"#555","labelPadding":0.5,"tickSize":1.5,"tickColor":"#999","domainColor":"#999","grid":false,"labelOverlap":false,"labelBound":false,"labelFlush":false}}}},
{"data":{"values":[{"d":"2016-07-29T18:00:00Z","p":59.75}]},"mark":{"type":"text","text":["First Daily Move Out of","Bearish Channel Drawn In","Spring '15"],"font":"DejaVu Sans","fontSize":7.6,"lineHeight":8.4,"align":"left","baseline":"top","color":"#3d0505"},"encoding":{"y":{"field":"p","type":"quantitative","scale":{"domain":[22.16,77.45],"zero":false,"nice":false},"axis":{"orient":"right","title":null,"values":[24,26,28,30,32,34,36,38,42,44,46,50,52,54,56,58,60,62,64,66,68,70,72,74,76],"format":".2f","labelFontSize":4.8,"labelColor":"#555","labelPadding":0.5,"tickSize":1.5,"tickColor":"#999","domainColor":"#999","grid":false,"labelOverlap":false,"labelBound":false,"labelFlush":false}}}},
{"data":{"name":"ma"},"mark":{"type":"line","color":"#2f6fae","strokeWidth":1.5,"interpolate":"monotone"},"encoding":{"y":{"field":"p","type":"quantitative","scale":{"domain":[22.16,77.45],"zero":false,"nice":false},"axis":{"orient":"right","title":null,"values":[24,26,28,30,32,34,36,38,42,44,46,50,52,54,56,58,60,62,64,66,68,70,72,74,76],"format":".2f","labelFontSize":4.8,"labelColor":"#555","labelPadding":0.5,"tickSize":1.5,"tickColor":"#999","domainColor":"#999","grid":false,"labelOverlap":false,"labelBound":false,"labelFlush":false}}}},
{"data":{"name":"tri"},"mark":{"type":"area","fill":"#72b543","fillOpacity":0.6,"stroke":"#4b7a32","strokeWidth":0.8},"encoding":{"y":{"field":"p","type":"quantitative","scale":{"domain":[22.16,77.45],"zero":false,"nice":false},"axis":{"orient":"right","title":null,"values":[24,26,28,30,32,34,36,38,42,44,46,50,52,54,56,58,60,62,64,66,68,70,72,74,76],"format":".2f","labelFontSize":4.8,"labelColor":"#555","labelPadding":0.5,"tickSize":1.5,"tickColor":"#999","domainColor":"#999","grid":false,"labelOverlap":false,"labelBound":false,"labelFlush":false}},"y2":{"field":"p2"},"detail":{"field":"t"}}},
{"data":{"values":[{"d":"2015-05-07","p":62.55},{"d":"2015-06-29T12:00:00Z","p":50.25}]},"mark":{"type":"line","color":"#4b7a32","strokeWidth":0.8},"encoding":{"y":{"field":"p","type":"quantitative","scale":{"domain":[22.16,77.45],"zero":false,"nice":false},"axis":{"orient":"right","title":null,"values":[24,26,28,30,32,34,36,38,42,44,46,50,52,54,56,58,60,62,64,66,68,70,72,74,76],"format":".2f","labelFontSize":4.8,"labelColor":"#555","labelPadding":0.5,"tickSize":1.5,"tickColor":"#999","domainColor":"#999","grid":false,"labelOverlap":false,"labelBound":false,"labelFlush":false}}}},
{"data":{"values":[{"d":"2016-07-22","p":40.54},{"d":"2016-12-18","p":40.54}]},"mark":{"type":"line","color":"#f5a10a","strokeWidth":1.2},"encoding":{"y":{"field":"p","type":"quantitative","scale":{"domain":[22.16,77.45],"zero":false,"nice":false},"axis":{"orient":"right","title":null,"values":[24,26,28,30,32,34,36,38,42,44,46,50,52,54,56,58,60,62,64,66,68,70,72,74,76],"format":".2f","labelFontSize":4.8,"labelColor":"#555","labelPadding":0.5,"tickSize":1.5,"tickColor":"#999","domainColor":"#999","grid":false,"labelOverlap":false,"labelBound":false,"labelFlush":false}}}},
{"data":{"values":[{"d":"2016-08-01T10:00:00Z","p":39.9}]},"mark":{"type":"point","filled":true,"color":"#ffff2e","opacity":0.7,"size":340},"encoding":{"y":{"field":"p","type":"quantitative","scale":{"domain":[22.16,77.45],"zero":false,"nice":false},"axis":{"orient":"right","title":null,"values":[24,26,28,30,32,34,36,38,42,44,46,50,52,54,56,58,60,62,64,66,68,70,72,74,76],"format":".2f","labelFontSize":4.8,"labelColor":"#555","labelPadding":0.5,"tickSize":1.5,"tickColor":"#999","domainColor":"#999","grid":false,"labelOverlap":false,"labelBound":false,"labelFlush":false}}}},
{"data":{"values":[{"d":"2015-08-09T18:00:00Z","d2":"2015-09-07T03:00:00Z","p":36.76,"p2":35.59},{"d":"2016-02-04T22:00:00Z","d2":"2016-02-16T08:00:00Z","p":24.8,"p2":23.63},{"d":"2016-07-17T14:00:00Z","d2":"2016-08-18T14:00:00Z","p":38.33,"p2":37.16}]},"mark":{"type":"rect","fill":"#44663a","stroke":"#a9b3a0","strokeWidth":0.5},"encoding":{"x2":{"field":"d2"},"y":{"field":"p","type":"quantitative","scale":{"domain":[22.16,77.45],"zero":false,"nice":false},"axis":{"orient":"right","title":null,"values":[24,26,28,30,32,34,36,38,42,44,46,50,52,54,56,58,60,62,64,66,68,70,72,74,76],"format":".2f","labelFontSize":4.8,"labelColor":"#555","labelPadding":0.5,"tickSize":1.5,"tickColor":"#999","domainColor":"#999","grid":false,"labelOverlap":false,"labelBound":false,"labelFlush":false}},"y2":{"field":"p2"}}},
{"data":{"values":[{"d":"2015-08-24","p":36.18,"t":"Left Shoulder"},{"d":"2016-02-10T12:00:00Z","p":24.22,"t":"Head"},{"d":"2016-08-02T14:00:00Z","p":37.75,"t":"Right Shoulder"}]},"mark":{"type":"text","fontSize":4.4,"align":"center","baseline":"middle","color":"#ffffff"},"encoding":{"y":{"field":"p","type":"quantitative","scale":{"domain":[22.16,77.45],"zero":false,"nice":false},"axis":{"orient":"right","title":null,"values":[24,26,28,30,32,34,36,38,42,44,46,50,52,54,56,58,60,62,64,66,68,70,72,74,76],"format":".2f","labelFontSize":4.8,"labelColor":"#555","labelPadding":0.5,"tickSize":1.5,"tickColor":"#999","domainColor":"#999","grid":false,"labelOverlap":false,"labelBound":false,"labelFlush":false}},"text":{"field":"t"}}},
{"data":{"values":[{"d":"2015-04-02","p":76.18,"t":"WTI CRUDE OIL, D, TVC","w":"bold"},{"d":"2015-04-02","p":75.29,"t":"MA (200, close)","w":"normal"}]},"mark":{"type":"text","fontSize":4.4,"align":"left","baseline":"middle","color":"#2a2a2a"},"encoding":{"y":{"field":"p","type":"quantitative","scale":{"domain":[22.16,77.45],"zero":false,"nice":false},"axis":{"orient":"right","title":null,"values":[24,26,28,30,32,34,36,38,42,44,46,50,52,54,56,58,60,62,64,66,68,70,72,74,76],"format":".2f","labelFontSize":4.8,"labelColor":"#555","labelPadding":0.5,"tickSize":1.5,"tickColor":"#999","domainColor":"#999","grid":false,"labelOverlap":false,"labelBound":false,"labelFlush":false}},"text":{"field":"t"},"fontWeight":{"field":"w","type":"nominal","scale":null}}},
{"data":{"values":[{"d":"2016-12-19","d2":"2017-01-01T12:00:00Z","p":49.39,"p2":48.19,"f":"#3d9a3d"},{"d":"2016-12-19","d2":"2017-01-01T12:00:00Z","p":41.14,"p2":39.94,"f":"#f7a21b"}]},"mark":{"type":"rect"},"encoding":{"x2":{"field":"d2"},"y":{"field":"p","type":"quantitative","scale":{"domain":[22.16,77.45],"zero":false,"nice":false},"axis":{"orient":"right","title":null,"values":[24,26,28,30,32,34,36,38,42,44,46,50,52,54,56,58,60,62,64,66,68,70,72,74,76],"format":".2f","labelFontSize":4.8,"labelColor":"#555","labelPadding":0.5,"tickSize":1.5,"tickColor":"#999","domainColor":"#999","grid":false,"labelOverlap":false,"labelBound":false,"labelFlush":false}},"y2":{"field":"p2"},"fill":{"field":"f","type":"nominal","scale":null}}},
{"data":{"values":[{"d":"2016-12-25T18:00:00Z","p":48.79,"t":"48.79","f":"#ffffff"},{"d":"2016-12-25T18:00:00Z","p":40.54,"t":"40.54","f":"#222222"}]},"mark":{"type":"text","fontSize":4.6,"align":"center","baseline":"middle"},"encoding":{"y":{"field":"p","type":"quantitative","scale":{"domain":[22.16,77.45],"zero":false,"nice":false},"axis":{"orient":"right","title":null,"values":[24,26,28,30,32,34,36,38,42,44,46,50,52,54,56,58,60,62,64,66,68,70,72,74,76],"format":".2f","labelFontSize":4.8,"labelColor":"#555","labelPadding":0.5,"tickSize":1.5,"tickColor":"#999","domainColor":"#999","grid":false,"labelOverlap":false,"labelBound":false,"labelFlush":false}},"text":{"field":"t"},"fill":{"field":"f","type":"nominal","scale":null}}}
]
}
